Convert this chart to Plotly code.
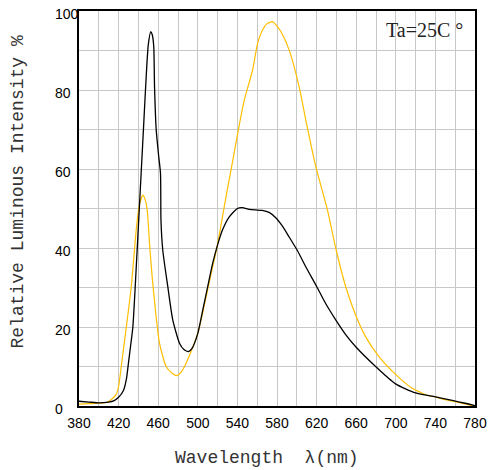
import plotly.graph_objects as go

# Black curve
wl_black = [380, 390, 400, 410, 415, 420, 425, 428, 430, 432, 434.4, 437.8, 440.5, 443, 445.5, 448, 450, 452.5,
            454, 455.5, 456.3, 458, 460.6, 462.3, 462.8, 464.6, 469.7, 474.7, 481.5, 486, 490.8, 494, 500, 505,
            510, 515, 520, 525, 531.8, 540, 545, 552, 565, 572, 579, 585, 592, 600.7, 610, 620.2, 629, 639.3,
            649, 659.5, 679.6, 699.8, 720, 740, 757, 770, 780]
val_black = [1.2, 1.0, 0.8, 1.0, 1.3, 2.2, 4.0, 7, 11, 15, 20, 35, 48, 60, 72, 84, 91.5, 94.8,
             94, 91, 80.8, 69.9, 63, 59, 47, 39.5, 30.2, 21.8, 15.9, 14.3, 13.8, 14.5, 18.4, 24.3,
             30.2, 36.1, 40.8, 44.6, 47.9, 50, 50.2, 49.8, 49.5, 49.0, 47.6, 45.7, 42.9, 39.3, 34.8, 30.2, 26.0, 21.8,
             18.2, 15, 10, 5.6, 3.3, 2.3, 1.4, 0.7, 0.1]

# Yellow curve
wl_yellow = [380, 390, 400, 407.6, 412, 417.7, 420, 422.7, 427.8, 432.8, 437.8, 441, 444.5, 446.5, 448.9,
             451.2, 453.9, 457.9, 461.3, 468, 474, 479.1, 483, 488.2, 500, 511.7, 520, 528.5, 535.2, 542,
             547, 555.3, 560.4, 565.4, 570, 575.5, 579, 583.9, 592.3, 602.4, 609.1, 619.2, 631, 639.3,
             649.4, 659.5, 669.6, 683, 699.8, 716.5, 733.4, 740, 750.2, 765, 773.7, 780]
val_yellow = [0.5, 0.6, 0.7, 0.9, 1.5, 3, 5, 10, 20, 30.2, 44.6, 51, 53.4, 52.5, 49.6,
              41.2, 32.7, 22.6, 15.9, 10, 8.3, 7.7, 8.5, 10.8, 18.4, 31.5, 41, 53, 62, 71.3,
              77.5, 85, 91.8, 95.2, 96.8, 97.3, 96.5, 94.8, 90.1, 80.8, 72.4, 60.6, 49.6, 40,
              30.2, 23, 17.5, 12.5, 8, 4.5, 2.6, 2.3, 1.6, 0.8, 0.3, 0]

x_ticks = [380, 420, 460, 500, 540, 580, 620, 660, 700, 740, 780]
y_ticks = [0, 20, 40, 60, 80, 100]

fig = go.Figure()
fig.add_trace(go.Scatter(x=wl_yellow, y=val_yellow, mode="lines",
                         line=dict(color="#FFBE00", width=1.2, shape="spline", smoothing=0.6),
                         showlegend=False, hoverinfo="skip"))
fig.add_trace(go.Scatter(x=wl_black, y=val_black, mode="lines",
                         line=dict(color="#000000", width=1.3, shape="spline", smoothing=0.6),
                         showlegend=False, hoverinfo="skip"))

grid = "#c8c8c8"
fig.update_xaxes(range=[380, 780], tickvals=x_ticks, ticktext=[str(v) for v in x_ticks],
                 showgrid=True, gridcolor=grid, gridwidth=1, automargin=False,
                 minor=dict(dtick=20, tick0=380, showgrid=True, gridcolor=grid, gridwidth=1),
                 showline=True, linecolor="black", linewidth=2, mirror=True,
                 ticks="", zeroline=False, ticklabelstandoff=3,
                 tickfont=dict(family="Liberation Sans", size=14, color="black"))
fig.update_yaxes(range=[0, 100], tickvals=y_ticks, showticklabels=False,
                 showgrid=True, gridcolor=grid, gridwidth=1, automargin=False,
                 minor=dict(dtick=10, tick0=0, showgrid=True, gridcolor=grid, gridwidth=1),
                 showline=True, linecolor="black", linewidth=2, mirror=True,
                 ticks="", zeroline=False)

# left-aligned y tick labels (as in the reference)
y_label_annots = [
    dict(text=str(v), xref="paper", yref="y", x=-0.066, y=v, xanchor="left", yanchor="middle",
         yshift=-3, showarrow=False, font=dict(family="Liberation Sans", size=14, color="black"))
    for v in y_ticks
]

fig.update_layout(
    width=489, height=470,
    margin=dict(l=79, r=14, t=11, b=64),
    paper_bgcolor="white", plot_bgcolor="white",
    annotations=y_label_annots + [
        dict(text="Ta=25C °", xref="paper", yref="paper", x=0.975, y=0.985,
             xanchor="right", yanchor="top", showarrow=False,
             font=dict(family="Liberation Serif", size=20, color="#222222")),
        dict(text="Relative Luminous Intensity %", xref="paper", yref="paper",
             x=-0.155, y=0.542, xanchor="center", yanchor="middle", showarrow=False, textangle=-90,
             font=dict(family="Liberation Mono", size=18, color="#333333")),
        dict(text="Wavelength  λ(nm)", xref="paper", yref="paper",
             x=0.475, y=-0.132, xanchor="center", yanchor="middle", showarrow=False,
             font=dict(family="Liberation Mono", size=18, color="#333333")),
    ],
)

fig.write_html("out.html", config={"displayModeBar": False},
               post_script="document.body.style.margin='0';")
